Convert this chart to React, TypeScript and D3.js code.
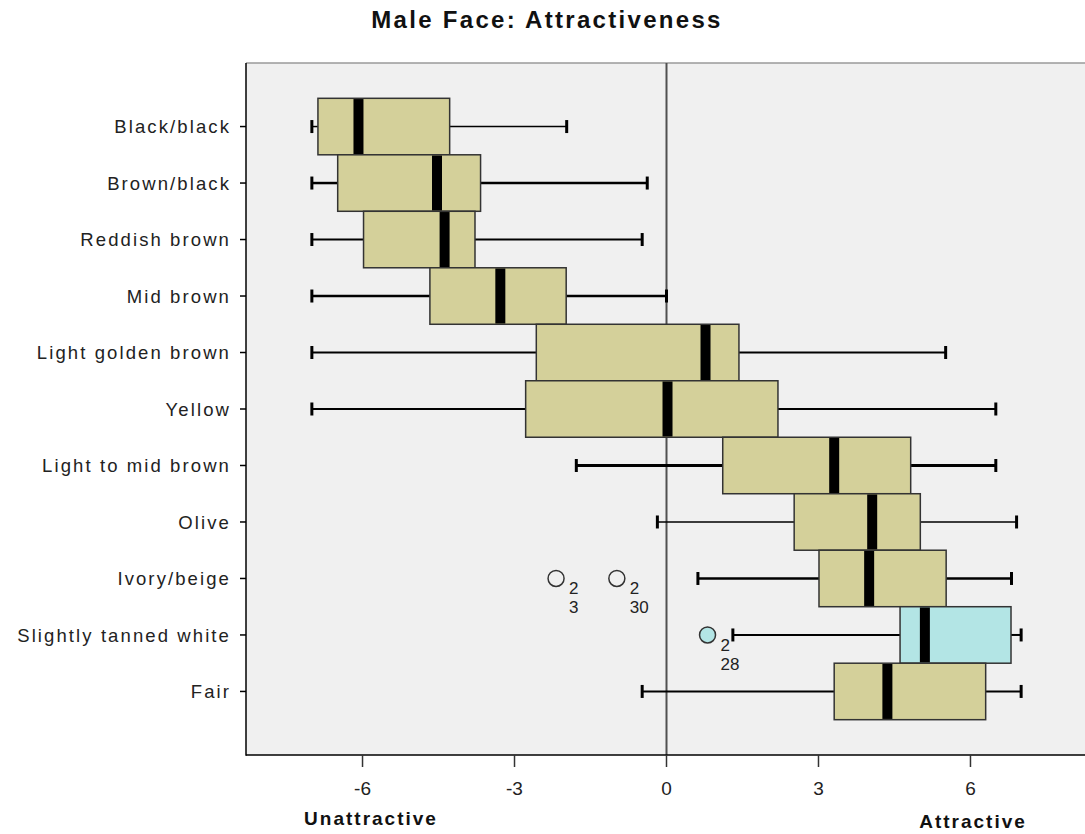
import React from "react";
import * as d3 from "d3";

// Skin tone categories, top to bottom
const categories = [
  "Black/black",
  "Brown/black",
  "Reddish brown",
  "Mid brown",
  "Light golden brown",
  "Yellow",
  "Light to mid brown",
  "Olive",
  "Ivory/beige",
  "Slightly tanned white",
  "Fair",
];

// Five-number summaries per category
const whiskerLow = [-7, -7, -7, -7, -7, -7, -1.78, -0.18, 0.62, 1.31, -0.48];
const quartile1 = [-6.88, -6.49, -5.98, -4.67, -2.57, -2.78, 1.11, 2.52, 3.01, 4.61, 3.31];
const medians = [-6.08, -4.53, -4.38, -3.28, 0.77, 0.02, 3.31, 4.06, 4.0, 5.1, 4.36];
const quartile3 = [-4.28, -3.67, -3.78, -1.98, 1.43, 2.2, 4.82, 5.01, 5.52, 6.8, 6.3];
const whiskerHigh = [-1.97, -0.38, -0.48, 0, 5.51, 6.5, 6.5, 6.91, 6.81, 7.0, 7.0];

// Outliers
const outlierCategory = ["Ivory/beige", "Ivory/beige", "Slightly tanned white"];
const outlierValue = [-2.18, -0.98, 0.81];
const outlierCount = ["2", "2", "2"];
const outlierCase = ["3", "30", "28"];

const highlightedCategory = "Slightly tanned white";

const xTicks = [-6, -3, 0, 3, 6];

// Whisker stroke weights as rendered per row
const whiskerWeights = [1.5, 2.5, 2, 2.5, 2, 1.8, 3, 1.5, 2.5, 2, 2];

const W = 1085;
const H = 834;
const plotLeft = 246;
const plotTop = 63;
const plotBottom = 755;

const FONT = "'Liberation Sans', Arial, sans-serif";
const TAN = "#d4d09a";
const CYAN = "#b3e5e5";

export default function App() {
  const x = d3.scaleLinear().domain([-8.3, 8.3]).range([plotLeft, 1087]);
  const y = d3
    .scalePoint<string>()
    .domain(categories)
    .range([plotTop, plotBottom])
    .padding(1.125);
  const step = y.step();
  const boxH = step;
  const capH = 13;

  return (
    <svg
      width={W}
      height={H}
      style={{ position: "absolute", left: 0, top: 0, background: "#fff" }}
      fontFamily={FONT}
    >
      {/* plot background */}
      <rect
        x={plotLeft}
        y={plotTop}
        width={W - plotLeft}
        height={plotBottom - plotTop}
        fill="#f0f0f0"
      />
      <line x1={plotLeft} x2={W} y1={plotTop} y2={plotTop} stroke="#9a9a9a" strokeWidth={1.5} />

      {/* zero reference line */}
      <line
        x1={x(0)}
        x2={x(0)}
        y1={plotTop}
        y2={plotBottom}
        stroke="#505050"
        strokeWidth={2}
      />

      {/* whiskers */}
      {categories.map((c, i) => {
        const cy = y(c)!;
        const sw = whiskerWeights[i];
        return (
          <g key={"w" + c} stroke="#000" strokeWidth={sw}>
            <line x1={x(whiskerLow[i])} x2={x(quartile1[i])} y1={cy} y2={cy} />
            <line x1={x(quartile3[i])} x2={x(whiskerHigh[i])} y1={cy} y2={cy} />
            <line
              x1={x(whiskerLow[i])}
              x2={x(whiskerLow[i])}
              y1={cy - capH / 2}
              y2={cy + capH / 2}
              strokeWidth={3}
            />
            <line
              x1={x(whiskerHigh[i])}
              x2={x(whiskerHigh[i])}
              y1={cy - capH / 2}
              y2={cy + capH / 2}
              strokeWidth={3}
            />
          </g>
        );
      })}

      {/* boxes */}
      {categories.map((c, i) => {
        const cy = y(c)!;
        return (
          <g key={"b" + c}>
            <rect
              x={x(quartile1[i])}
              y={cy - boxH / 2}
              width={x(quartile3[i]) - x(quartile1[i])}
              height={boxH}
              fill={c === highlightedCategory ? CYAN : TAN}
              stroke="#333"
              strokeWidth={1.5}
            />
            <rect
              x={x(medians[i]) - 5}
              y={cy - boxH / 2 + 0.75}
              width={10}
              height={boxH - 1.5}
              fill="#000"
            />
          </g>
        );
      })}

      {/* outliers */}
      {outlierValue.map((v, i) => {
        const cx = x(v);
        const cy = y(outlierCategory[i])!;
        return (
          <g key={"o" + i}>
            <circle
              cx={cx}
              cy={cy}
              r={8}
              fill={outlierCategory[i] === highlightedCategory ? CYAN : "none"}
              stroke="#333"
              strokeWidth={1.5}
            />
            <text x={cx + 13} y={cy + 16} fontSize={17} fill="#222">
              {outlierCount[i]}
            </text>
            <text x={cx + 13} y={cy + 35} fontSize={17} fill="#222">
              {outlierCase[i]}
            </text>
          </g>
        );
      })}

      {/* y axis */}
      <line x1={plotLeft} x2={plotLeft} y1={plotTop} y2={plotBottom + 0.75} stroke="#000" strokeWidth={1.5} />
      {categories.map((c) => (
        <g key={"yt" + c}>
          <line x1={plotLeft - 6} x2={plotLeft} y1={y(c)!} y2={y(c)!} stroke="#000" strokeWidth={1.5} />
          <text
            x={plotLeft - 15}
            y={y(c)!}
            dy="0.36em"
            textAnchor="end"
            fontSize={18.5}
            letterSpacing={2.1}
            fill="#222"
          >
            {c}
          </text>
        </g>
      ))}

      {/* x axis */}
      <line x1={plotLeft} x2={W} y1={plotBottom} y2={plotBottom} stroke="#000" strokeWidth={1.5} />
      {xTicks.map((t) => (
        <g key={"xt" + t}>
          <line x1={x(t)} x2={x(t)} y1={plotBottom} y2={plotBottom + 12} stroke="#333" strokeWidth={1.5} />
          <text
            x={x(t)}
            y={795}
            textAnchor="middle"
            fontSize={19}
            fill="#222"
          >
            {t}
          </text>
        </g>
      ))}
      <text x={371} y={825} textAnchor="middle" fontSize={19} fontWeight="bold" letterSpacing={2} fill="#111">
        Unattractive
      </text>
      <text x={973} y={828} textAnchor="middle" fontSize={19} fontWeight="bold" letterSpacing={2} fill="#111">
        Attractive
      </text>

      {/* title */}
      <text x={547} y={28} textAnchor="middle" fontSize={24} fontWeight="bold" letterSpacing={2.3} fill="#111">
        Male Face: Attractiveness
      </text>
    </svg>
  );
}
